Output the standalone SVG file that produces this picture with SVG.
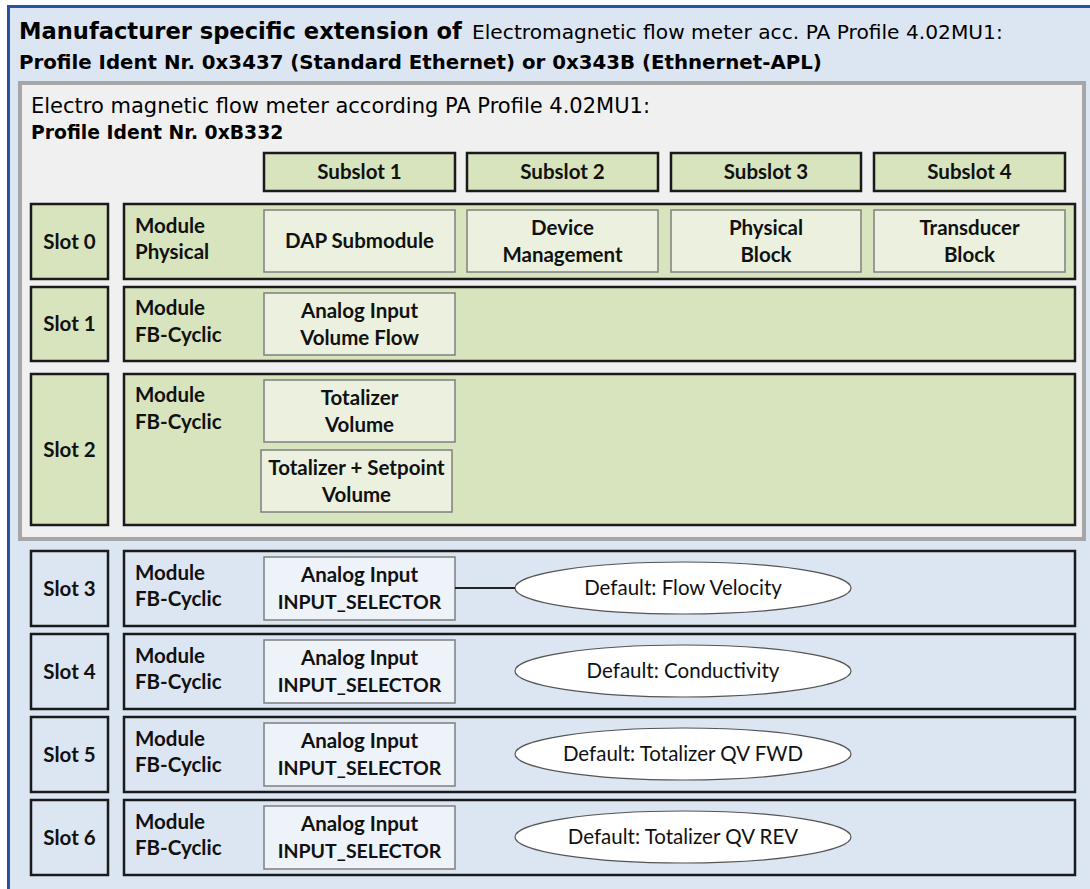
<svg xmlns="http://www.w3.org/2000/svg" width="1090" height="889" viewBox="0 0 1090 889">
<style>
.hdr{font-family:"DejaVu Sans",Verdana,sans-serif;fill:#000}
.t{font-family:Lato,"Open Sans",sans-serif;font-weight:bold;font-size:20.5px;fill:#111;text-anchor:middle}
.tl{font-family:Lato,"Open Sans",sans-serif;font-weight:bold;font-size:20.5px;fill:#111}
.e{font-family:Lato,"Open Sans",sans-serif;font-size:20.5px;fill:#111;text-anchor:middle}
.is{font-size:19.5px}
.g{fill:#d7e4bd;stroke:#1a1a1a;stroke-width:2.5}
.gs{fill:#ebf1de;stroke:#7f7f7f;stroke-width:1.5}
.b{fill:#dce6f2;stroke:#1a1a1a;stroke-width:2.5}
.bs{fill:#eef3f9;stroke:#7f7f7f;stroke-width:1.5}
.el{fill:#fff;stroke:#555;stroke-width:1.2}
</style>
<rect x="0" y="0" width="1090" height="889" fill="#fff"/>
<rect x="8.5" y="6.5" width="1100" height="900" fill="#dce6f2" stroke="#2a52a3" stroke-width="3"/>
<g id="title">
<text class="hdr" x="19" y="39"><tspan font-weight="bold" font-size="22.6">Manufacturer specific extension of</tspan><tspan font-size="20.2" x="472">Electromagnetic flow meter acc. PA Profile 4.02MU1:</tspan></text>
<text class="hdr" x="19" y="69" font-weight="bold" font-size="19.8">Profile Ident Nr. 0x3437 (Standard Ethernet) or 0x343B (Ethnernet-APL)</text>
</g>
<g id="profile-box">
<rect x="20" y="83" width="1064" height="456" fill="#f0f0f0" stroke="#a6a6a6" stroke-width="4"/>
<text class="hdr" x="31" y="113" font-size="21">Electro magnetic flow meter according PA Profile 4.02MU1:</text>
<text class="hdr" x="31" y="139" font-size="18.8" font-weight="bold">Profile Ident Nr. 0xB332</text>
</g>
<g id="subslots">
<rect class="g" x="264" y="153" width="191" height="38"/><text class="t" x="359.5" y="179">Subslot 1</text>
<rect class="g" x="467" y="153" width="191" height="38"/><text class="t" x="562.5" y="179">Subslot 2</text>
<rect class="g" x="671" y="153" width="190" height="38"/><text class="t" x="766" y="179">Subslot 3</text>
<rect class="g" x="874" y="153" width="191" height="38"/><text class="t" x="969.5" y="179">Subslot 4</text>
</g>
<g id="slot0">
<rect class="g" x="31" y="204" width="77" height="75"/><text class="t" x="69.5" y="249">Slot 0</text>
<rect class="g" x="124" y="204" width="951" height="75"/>
<text class="tl" x="135" y="233">Module</text><text class="tl" x="135" y="259">Physical</text>
<rect class="gs" x="264" y="210" width="191" height="62"/><text class="t" x="359.5" y="248">DAP Submodule</text>
<rect class="gs" x="467" y="210" width="191" height="62"/><text class="t" x="562.5" y="235">Device</text><text class="t" x="562.5" y="262">Management</text>
<rect class="gs" x="671" y="210" width="190" height="62"/><text class="t" x="766" y="235">Physical</text><text class="t" x="766" y="262">Block</text>
<rect class="gs" x="874" y="210" width="191" height="62"/><text class="t" x="969.5" y="235">Transducer</text><text class="t" x="969.5" y="262">Block</text>
</g>
<g id="slot1">
<rect class="g" x="31" y="287" width="77" height="74"/><text class="t" x="69.5" y="331">Slot 1</text>
<rect class="g" x="124" y="287" width="951" height="74"/>
<text class="tl" x="135" y="315">Module</text><text class="tl" x="135" y="342">FB-Cyclic</text>
<rect class="gs" x="264" y="293" width="191" height="62"/><text class="t" x="359.5" y="318">Analog Input</text><text class="t" x="359.5" y="345">Volume Flow</text>
</g>
<g id="slot2">
<rect class="g" x="31" y="374" width="77" height="151"/><text class="t" x="69.5" y="457">Slot 2</text>
<rect class="g" x="124" y="374" width="951" height="151"/>
<text class="tl" x="135" y="402">Module</text><text class="tl" x="135" y="429">FB-Cyclic</text>
<rect class="gs" x="264" y="380" width="191" height="62"/><text class="t" x="359.5" y="405">Totalizer</text><text class="t" x="359.5" y="432">Volume</text>
<rect class="gs" x="261" y="450" width="191" height="62"/><text class="t" x="356.5" y="475" font-size="18">Totalizer + Setpoint</text><text class="t" x="356.5" y="502">Volume</text>
</g>
<g id="slot3">
<rect class="b" x="31" y="551" width="77" height="75"/><text class="t" x="69.5" y="596">Slot 3</text>
<rect class="b" x="124" y="551" width="951" height="75"/>
<text class="tl" x="135" y="580">Module</text><text class="tl" x="135" y="606">FB-Cyclic</text>
<rect class="bs" x="264" y="557" width="191" height="63"/><text class="t" x="359.5" y="582">Analog Input</text><text class="t is" x="359.5" y="609">INPUT_SELECTOR</text>
<ellipse class="el" cx="683" cy="588" rx="168" ry="26"/><text class="e" x="683" y="595">Default: Flow Velocity</text>
</g>
<g id="slot4">
<rect class="b" x="31" y="634" width="77" height="75"/><text class="t" x="69.5" y="679">Slot 4</text>
<rect class="b" x="124" y="634" width="951" height="75"/>
<text class="tl" x="135" y="663">Module</text><text class="tl" x="135" y="689">FB-Cyclic</text>
<rect class="bs" x="264" y="640" width="191" height="63"/><text class="t" x="359.5" y="665">Analog Input</text><text class="t is" x="359.5" y="692">INPUT_SELECTOR</text>
<ellipse class="el" cx="683" cy="671" rx="168" ry="26"/><text class="e" x="683" y="678">Default: Conductivity</text>
</g>
<g id="slot5">
<rect class="b" x="31" y="717" width="77" height="75"/><text class="t" x="69.5" y="762">Slot 5</text>
<rect class="b" x="124" y="717" width="951" height="75"/>
<text class="tl" x="135" y="746">Module</text><text class="tl" x="135" y="772">FB-Cyclic</text>
<rect class="bs" x="264" y="723" width="191" height="63"/><text class="t" x="359.5" y="748">Analog Input</text><text class="t is" x="359.5" y="775">INPUT_SELECTOR</text>
<ellipse class="el" cx="683" cy="754" rx="168" ry="26"/><text class="e" x="683" y="761">Default: Totalizer QV FWD</text>
</g>
<g id="slot6">
<rect class="b" x="31" y="800" width="77" height="75"/><text class="t" x="69.5" y="845">Slot 6</text>
<rect class="b" x="124" y="800" width="951" height="75"/>
<text class="tl" x="135" y="829">Module</text><text class="tl" x="135" y="855">FB-Cyclic</text>
<rect class="bs" x="264" y="806" width="191" height="63"/><text class="t" x="359.5" y="831">Analog Input</text><text class="t is" x="359.5" y="858">INPUT_SELECTOR</text>
<ellipse class="el" cx="683" cy="837" rx="168" ry="26"/><text class="e" x="683" y="844">Default: Totalizer QV REV</text>
</g>
<g id="connectors">
<line x1="455" y1="588" x2="515" y2="588" stroke="#222" stroke-width="2"/>
</g>
</svg>
